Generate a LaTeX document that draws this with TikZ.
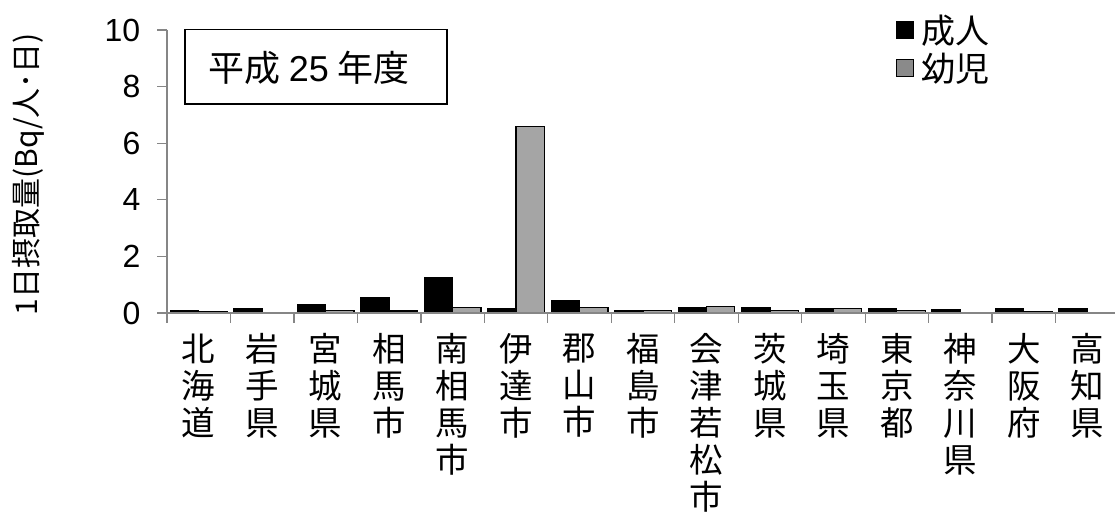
\documentclass[tikz,border=0pt]{standalone}
\usepackage{fontspec}
\setmainfont{Liberation Sans}
\newfontfamily\cjk{Noto Sans CJK JP}
\definecolor{axisgray}{HTML}{868686}
\definecolor{childgray}{HTML}{A5A5A5}
\definecolor{leggray}{HTML}{8A8A8A}
\begin{document}
\begin{tikzpicture}[x=1pt,y=-1pt,
  adultbar/.style={draw=black,fill=black,line width=1.2pt},
  childbar/.style={draw=black,fill=childgray,line width=1.2pt},
  axisline/.style={draw=axisgray,line width=1.3pt},
  ticklab/.style={font=\fontsize{32}{33}\selectfont,anchor=east,inner sep=0pt},
  catlab/.style={font=\cjk\fontsize{33.5}{37}\selectfont,align=center,anchor=north,inner sep=0pt},
  cjktext/.style={font=\cjk\fontsize{34}{36}\selectfont,inner sep=0pt}]
\useasboundingbox (0,0) rectangle (1115,513);
% bars
\foreach \i/\a/\c in {0/0.07/0.05, 1/0.17/0, 2/0.29/0.10, 3/0.55/0.07, 4/1.26/0.20,
  5/0.17/6.60, 6/0.45/0.20, 7/0.10/0.08, 8/0.20/0.22, 9/0.18/0.10, 10/0.14/0.16,
  11/0.16/0.08, 12/0.13/0, 13/0.14/0.05, 14/0.14/0} {
  \pgfmathsetmacro{\L}{167+63.47*\i}
  \draw[adultbar] ({\L+3.4},313) rectangle ({\L+31.7},{313-\a*28.3});
  \ifdim \c pt>0pt
    \draw[childbar] ({\L+31.7},313) rectangle ({\L+60.1},{313-\c*28.3});
  \fi
}
% axes
\draw[axisline] (167,30) -- (167,313);
\draw[axisline] (157,313) -- (1115,313);
\foreach \v in {0,2,4,6,8,10} {
  \draw[axisline] (157,{313-\v*28.3}) -- (167,{313-\v*28.3});
  \node[ticklab] (t\v) at (140.5,{313-\v*28.3}) {\v};
}
\foreach \i in {0,...,14} {
  \draw[axisline] ({167+63.47*\i},313) -- ({167+63.47*\i},323);
}
% category labels
\foreach \i/\t in {0/{北\\海\\道}, 1/{岩\\手\\県}, 2/{宮\\城\\県}, 3/{相\\馬\\市},
  4/{南\\相\\馬\\市}, 5/{伊\\達\\市}, 6/{郡\\山\\市}, 7/{福\\島\\市},
  8/{会\\津\\若\\松\\市}, 9/{茨\\城\\県}, 10/{埼\\玉\\県}, 11/{東\\京\\都},
  12/{神\\奈\\川\\県}, 13/{大\\阪\\府}, 14/{高\\知\\県}} {
  \node[catlab] (c\i) at ({167+63.47*\i+31.7},333.5) {\t};
}
% y label
\node[rotate=90,font=\cjk\fontsize{30}{30}\selectfont,inner sep=0pt] (ylab) at (28,174) {1日摂取量(Bq/人･日)};
% title box
\draw[line width=1.3pt] (185,29.5) rectangle (447,104);
\node[font=\cjk\fontsize{36}{38}\selectfont,inner sep=0pt] (title) at (309,68) {平成 {\rmfamily 25} 年度};
% legend
\draw[draw=black,fill=black,line width=1pt] (896,22) rectangle (913,39);
\draw[draw=black,fill=leggray,line width=1pt] (896,60) rectangle (913,77);
\node[cjktext,anchor=west] (lega) at (921,31) {成人};
\node[cjktext,anchor=west] (legc) at (921,69) {幼児};
\end{tikzpicture}
\end{document}
